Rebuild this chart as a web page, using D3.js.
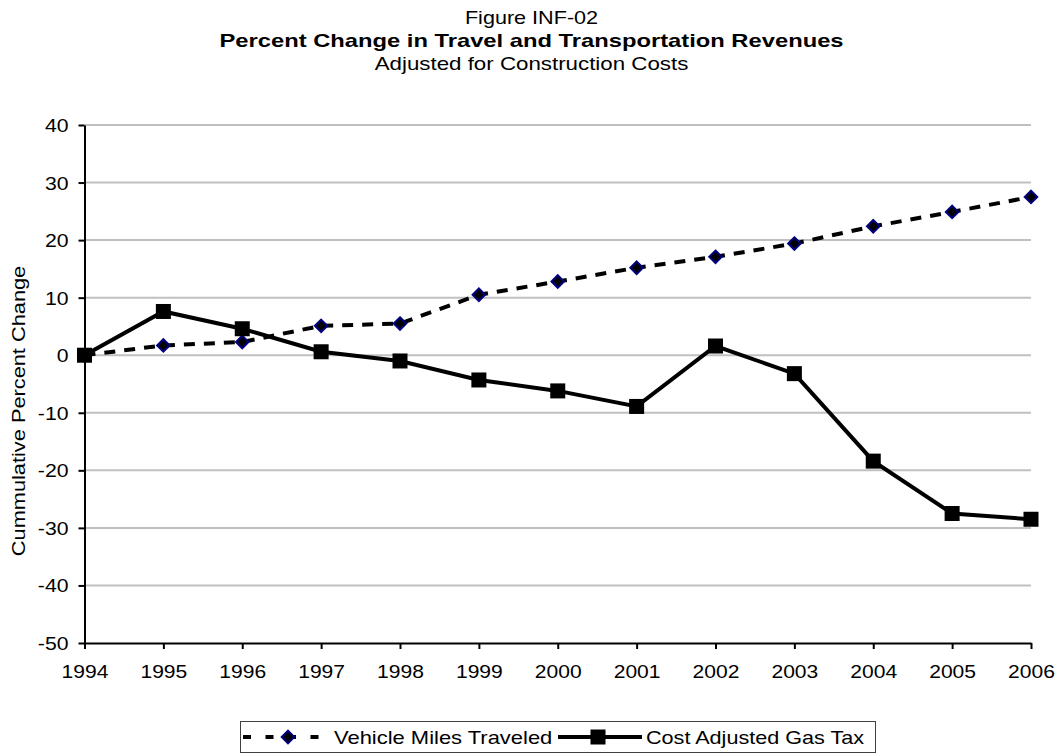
<!DOCTYPE html>
<html>
<head>
<meta charset="utf-8">
<script src="https://cdn.jsdelivr.net/npm/d3@7"></script>
<style>
body { margin: 0; background: #fff; }
text { font-family: "Liberation Sans", Arial, sans-serif; fill: #000; }
</style>
</head>
<body>
<div id="chart"></div>
<script>
var svgWidth = 1063;
var svgHeight = 755;

// data
var years = [1994, 1995, 1996, 1997, 1998, 1999, 2000, 2001, 2002, 2003, 2004, 2005, 2006];
var vmt = [0, 1.7, 2.3, 5.1, 5.5, 10.5, 12.8, 15.2, 17.1, 19.4, 22.4, 24.9, 27.5];
var gasTax = [0, 7.6, 4.6, 0.6, -1.0, -4.3, -6.2, -8.9, 1.6, -3.2, -18.4, -27.5, -28.5];
var yTicks = [40, 30, 20, 10, 0, -10, -20, -30, -40, -50];

var plot = { left: 84.5, right: 1031, top: 125, bottom: 643 };

var svg = d3.select("#chart")
.append("svg")
.attr("width", svgWidth)
.attr("height", svgHeight);

// the source picture has slightly wide lettering
function wideText(parent, x, y, str, size, sx, anchor) {
    return parent.append("text")
    .attr("transform", `translate(${x},${y}) scale(${sx},1)`)
    .attr("text-anchor", anchor || "start")
    .attr("font-size", size)
    .text(str);
}

var xScale = d3.scaleLinear()
.domain([1994, 2006])
.range([plot.left, plot.right]);

var yScale = d3.scaleLinear()
.domain([-50, 40])
.range([plot.bottom, plot.top]);

// titles
wideText(svg, svgWidth / 2, 24, "Figure INF-02", "18px", 1.2, "middle");
wideText(svg, svgWidth / 2, 47, "Percent Change in Travel and Transportation Revenues", "19px", 1.25, "middle")
.attr("font-weight", "bold");
wideText(svg, svgWidth / 2, 70, "Adjusted for Construction Costs", "18px", 1.24, "middle");

// gridlines
svg.append("g")
.selectAll("line")
.data(yTicks.filter(d => d !== -50))
.enter()
.append("line")
.attr("x1", plot.left)
.attr("x2", plot.right)
.attr("y1", d => yScale(d))
.attr("y2", d => yScale(d))
.attr("stroke", "#c0c0c0")
.attr("stroke-width", 2);

// axes
var leftAxis = d3.axisLeft(yScale)
.tickValues(yTicks)
.tickFormat(d => String(d))
.tickSize(6)
.tickSizeOuter(0);

var yAxis = svg.append("g")
.attr("transform", `translate(${plot.left},0)`)
.call(leftAxis);

var bottomAxis = d3.axisBottom(xScale)
.tickValues(years)
.tickFormat(d => String(d))
.tickSize(6)
.tickSizeOuter(0);

var xAxis = svg.append("g")
.attr("transform", `translate(0,${plot.bottom})`)
.call(bottomAxis);

[xAxis, yAxis].forEach(function(ax) {
    ax.select(".domain").attr("stroke", "#000").attr("stroke-width", 2);
    ax.selectAll(".tick line").attr("stroke", "#000").attr("stroke-width", 2);
    ax.selectAll(".tick text")
    .attr("font-size", "18px")
    .attr("font-family", "Liberation Sans, Arial, sans-serif")
    .attr("fill", "#000")
    .attr("x", null).attr("y", null).attr("dy", null);
});

yAxis.selectAll(".tick text")
.attr("transform", "translate(-16,6.5) scale(1.18,1)");

xAxis.selectAll(".tick text")
.attr("transform", "translate(0,35) scale(1.17,1)");

// y axis title
svg.append("text")
.attr("transform", "translate(25,411) rotate(-90) scale(1.21,1)")
.attr("text-anchor", "middle")
.attr("font-size", "18px")
.text("Cummulative Percent Change");

// lines
var seriesLine = d3.line()
.x((d, i) => xScale(years[i]))
.y(d => yScale(d));

svg.append("path")
.datum(vmt)
.attr("d", seriesLine)
.attr("fill", "none")
.attr("stroke", "#000")
.attr("stroke-width", 4)
.attr("stroke-dasharray", "11,9");

svg.append("path")
.datum(gasTax)
.attr("d", seriesLine)
.attr("fill", "none")
.attr("stroke", "#000")
.attr("stroke-width", 4);

var diamond = d3.symbol().type(d3.symbolDiamond2).size(100);

svg.append("g")
.selectAll("path")
.data(vmt)
.enter()
.append("path")
.attr("d", diamond)
.attr("transform", (d, i) => `translate(${xScale(years[i])},${yScale(d)})`)
.attr("fill", "#000")
.attr("stroke", "#000080")
.attr("stroke-width", 2);

svg.append("g")
.selectAll("rect")
.data(gasTax)
.enter()
.append("rect")
.attr("x", (d, i) => xScale(years[i]) - 7.5)
.attr("y", d => yScale(d) - 7.5)
.attr("width", 15)
.attr("height", 15)
.attr("fill", "#000");

// legend
var legend = svg.append("g");

legend.append("rect")
.attr("x", 240.5).attr("y", 721.5)
.attr("width", 635).attr("height", 31)
.attr("fill", "#fff")
.attr("stroke", "#404040")
.attr("stroke-width", 1);

var ly = 737;

legend.append("line")
.attr("x1", 243).attr("x2", 323)
.attr("y1", ly).attr("y2", ly)
.attr("stroke", "#000")
.attr("stroke-width", 4)
.attr("stroke-dasharray", "8,14.5");

legend.append("path")
.attr("d", diamond)
.attr("transform", `translate(288,${ly})`)
.attr("fill", "#000")
.attr("stroke", "#000080")
.attr("stroke-width", 2);

wideText(legend, 334, ly + 7, "Vehicle Miles Traveled", "18px", 1.22);

legend.append("line")
.attr("x1", 558).attr("x2", 642)
.attr("y1", ly).attr("y2", ly)
.attr("stroke", "#000")
.attr("stroke-width", 4);

legend.append("rect")
.attr("x", 598 - 7.5).attr("y", ly - 7.5)
.attr("width", 15).attr("height", 15)
.attr("fill", "#000");

wideText(legend, 646, ly + 7, "Cost Adjusted Gas Tax", "18px", 1.2);
</script>
</body>
</html>
